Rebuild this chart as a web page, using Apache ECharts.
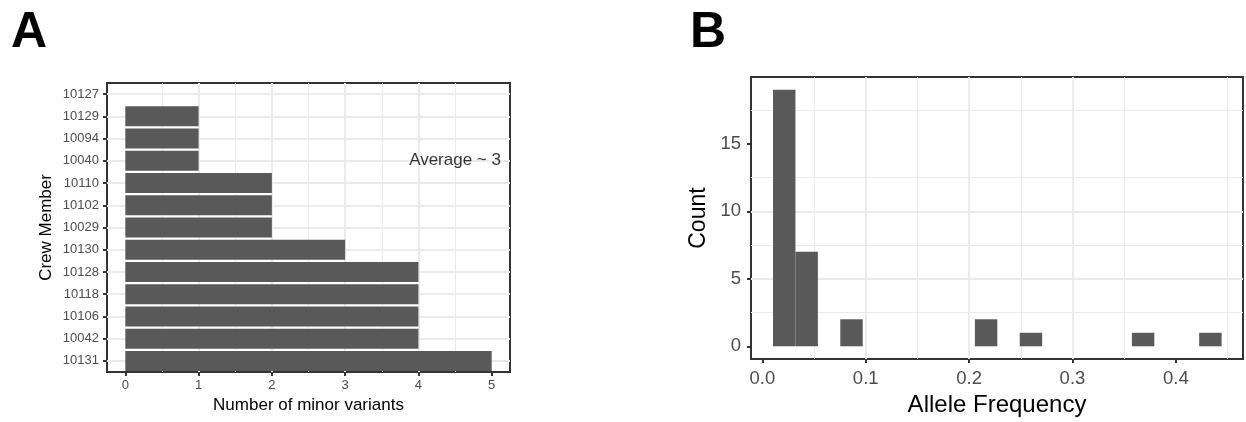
<!DOCTYPE html>
<html><head><meta charset="utf-8">
<script src="https://cdn.jsdelivr.net/npm/echarts@6/dist/echarts.min.js"></script>
<style>html,body{margin:0;padding:0;background:#fff}#c{width:1246px;height:422px}</style>
</head><body><div id="c"></div>
<script>
// ---- Panel A data ----
const crewMembers = ['10127','10129','10094','10040','10110','10102','10029','10130','10128','10118','10106','10042','10131'];
const minorVariants = [0,1,1,1,2,2,2,3,4,4,4,4,5];
const xTicksA = [0,1,2,3,4,5];
const xMinorA = [0.5,1.5,2.5,3.5,4.5];
const annotationText = 'Average ~ 3';
const annotationPos = [4.5, '10040'];

// ---- Panel B data (histogram) ----
const binEdges = [0.0103,0.0320,0.0537,0.0754,0.0971,0.1188,0.1405,0.1622,0.1839,0.2056,0.2273,0.2490,0.2707,0.2924,0.3141,0.3358,0.3575,0.3792,0.4009,0.4226,0.4443];
const binCounts = [19,7,0,2,0,0,0,0,0,2,0,1,0,0,0,0,1,0,0,1];
const xTicksB = [0,0.1,0.2,0.3,0.4];
const xMinorB = [0.05,0.15,0.25,0.35,0.45];
const yTicksB = [0,5,10,15];
const yMinorB = [2.5,7.5,12.5,17.5];

const FONT = '"Liberation Sans", Arial, Helvetica, sans-serif';
const BAR = '#595959';
const GRIDC = '#EBEBEB';
const TICKC = '#333333';
const LABC = '#4D4D4D';

const histData = binCounts.map((c, i) => [binEdges[i], binEdges[i + 1], c]).filter(d => d[2] > 0);

const chart = echarts.init(document.getElementById('c'), null, {renderer: 'canvas'});
chart.setOption({
  animation: false,
  textStyle: {fontFamily: FONT},
  title: [
    {text: 'A', left: 6, top: 3, textStyle: {fontSize: 50, fontWeight: 'bold', color: '#000', fontFamily: FONT}},
    {text: 'B', left: 685, top: 3, textStyle: {fontSize: 50, fontWeight: 'bold', color: '#000', fontFamily: FONT}}
  ],
  grid: [
    {left: 107, top: 83, width: 403, height: 289, show: true, borderColor: TICKC, borderWidth: 2, backgroundColor: '#fff', containLabel: false},
    {left: 751, top: 77, width: 492, height: 287, show: true, borderColor: TICKC, borderWidth: 2, backgroundColor: '#fff', containLabel: false}
  ],
  xAxis: [
    {
      type: 'value', gridIndex: 0, min: -0.25, max: 5.25, position: 'bottom',
      axisLine: {show: false, onZero: false},
      axisTick: {show: true, length: 4, lineStyle: {color: TICKC, width: 2}, customValues: xTicksA},
      axisLabel: {customValues: xTicksA, color: LABC, fontSize: 13, margin: 7, fontFamily: FONT},
      splitLine: {show: true, showMinLine: false, showMaxLine: false, lineStyle: {color: GRIDC, width: 2}},
      name: 'Number of minor variants', nameLocation: 'middle', nameGap: 24,
      nameTextStyle: {fontSize: 17, color: '#000', fontFamily: FONT}
    },
    {
      type: 'value', gridIndex: 1, min: -0.011, max: 0.465, position: 'bottom',
      axisLine: {show: false, onZero: false},
      axisTick: {show: true, length: 4, lineStyle: {color: TICKC, width: 2}, customValues: xTicksB},
      axisLabel: {customValues: xTicksB, color: LABC, fontSize: 18.5, margin: 10, fontFamily: FONT,
                  formatter: v => Number(v).toFixed(1)},
      splitLine: {show: true, showMinLine: false, showMaxLine: false, lineStyle: {color: GRIDC, width: 2}},
      name: 'Allele Frequency', nameLocation: 'middle', nameGap: 31,
      nameTextStyle: {fontSize: 24, color: '#000', fontFamily: FONT}
    }
  ],
  yAxis: [
    {
      type: 'category', gridIndex: 0, data: crewMembers, inverse: true, position: 'left',
      axisLine: {show: false, onZero: false},
      axisTick: {show: true, alignWithLabel: true, interval: 0, length: 4, lineStyle: {color: TICKC, width: 2}},
      axisLabel: {interval: 0, color: LABC, fontSize: 13, margin: 8, fontFamily: FONT},
      splitLine: {show: true, alignWithLabel: true, interval: 0, lineStyle: {color: GRIDC, width: 2}},
      name: 'Crew Member', nameLocation: 'middle', nameGap: 52, nameRotate: 90,
      nameTextStyle: {fontSize: 17, color: '#000', fontFamily: FONT}
    },
    {
      type: 'value', gridIndex: 1, min: -0.95, max: 19.95, position: 'left',
      axisLine: {show: false, onZero: false},
      axisTick: {show: true, length: 4, lineStyle: {color: TICKC, width: 2}, customValues: yTicksB},
      axisLabel: {customValues: yTicksB, color: LABC, fontSize: 18.5, margin: 10, fontFamily: FONT},
      splitLine: {show: true, showMinLine: false, showMaxLine: false, lineStyle: {color: GRIDC, width: 2}},
      name: 'Count', nameLocation: 'middle', nameGap: 41, nameRotate: 90,
      nameTextStyle: {fontSize: 23, color: '#000', fontFamily: FONT}
    }
  ],
  series: [
    {
      type: 'bar', xAxisIndex: 0, yAxisIndex: 0, data: minorVariants,
      barCategoryGap: '10%', itemStyle: {color: BAR}, z: 3,
      markLine: {
        silent: true, z: 1, symbol: ['none', 'none'], label: {show: false},
        lineStyle: {color: GRIDC, width: 1, type: 'solid'},
        emphasis: {disabled: true},
        data: xMinorA.map(v => ({xAxis: v}))
      }
    },
    {
      type: 'scatter', xAxisIndex: 0, yAxisIndex: 0, symbolSize: 0, z: 4,
      data: [annotationPos],
      label: {show: true, position: 'inside', formatter: annotationText, fontSize: 17, color: '#000', fontFamily: FONT}
    },
    {
      type: 'custom', xAxisIndex: 1, yAxisIndex: 1, z: 3,
      data: histData,
      encode: {x: [0, 1], y: 2},
      renderItem: function (params, api) {
        const p0 = api.coord([api.value(0), api.value(2)]);
        const p1 = api.coord([api.value(1), 0]);
        return {type: 'rect', shape: {x: p0[0], y: p0[1], width: p1[0] - p0[0], height: p1[1] - p0[1]},
                style: {fill: BAR}};
      },
      markLine: {
        silent: true, z: 1, symbol: ['none', 'none'], label: {show: false},
        lineStyle: {color: GRIDC, width: 1, type: 'solid'},
        emphasis: {disabled: true},
        data: xMinorB.map(v => ({xAxis: v})).concat(yMinorB.map(v => ({yAxis: v})))
      }
    }
  ]
});
</script>
</body></html>
